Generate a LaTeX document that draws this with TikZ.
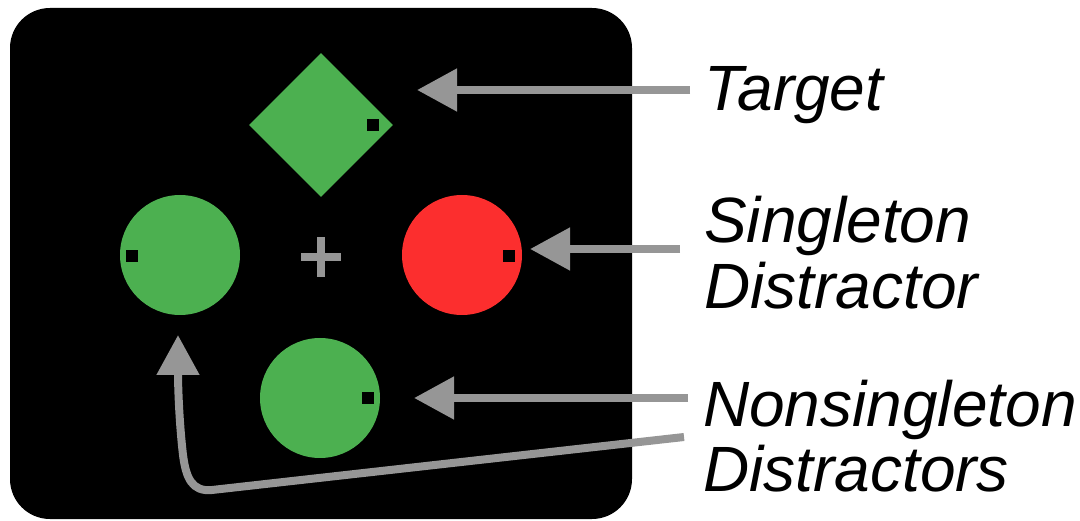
\documentclass[tikz,border=0pt]{standalone}
\usepackage{fontspec}
\setmainfont{Liberation Sans}
\usetikzlibrary{arrows.meta,shapes.geometric}

\definecolor{stimgreen}{RGB}{76,176,80}
\definecolor{stimred}{RGB}{252,46,46}
\definecolor{pointer}{RGB}{150,150,150}

\tikzset{
  display/.style={fill=black, rounded corners=40pt},
  disc/.style={circle, minimum size=120pt, inner sep=0pt},
  gap/.style={fill=black, minimum size=12pt, inner sep=0pt},
  pointerarrow/.style={draw=pointer, line width=8pt,
    -{Triangle[length=40pt, width=41pt]}},
  % multi-line captions sit on the baseline of their last line
  caption/.style={font=\fontsize{64}{66}\selectfont\itshape,
    anchor=base west, inner sep=0pt, align=left},
}

\begin{document}
\begin{tikzpicture}[x=1pt, y=-1pt]
  \useasboundingbox (0,0) rectangle (1080,521);

  % search display
  \fill[display] (10,8) rectangle (632,519);

  % target diamond and distractor discs
  \node[diamond, fill=stimgreen, minimum width=144pt, minimum height=144pt,
        inner sep=0pt, aspect=1] (target) at (321,125) {};
  \node[disc, fill=stimgreen] (leftdisc) at (180,255) {};
  \node[disc, fill=stimred] (singleton) at (462,255) {};
  \node[disc, fill=stimgreen] (bottomdisc) at (320,398) {};

  % small gaps on each item
  \node[gap] (gaptarget) at (373,125) {};
  \node[gap] (gapleft) at (132,256) {};
  \node[gap] (gapred) at (509,256) {};
  \node[gap] (gapbottom) at (368,398) {};

  % fixation cross
  \coordinate (fix) at (321,257);
  \draw[pointer, line width=8pt] ([xshift=-20pt]fix) -- ([xshift=20pt]fix)
                                 ([yshift=-20pt]fix) -- ([yshift=20pt]fix);

  % labels
  \node[caption] (lbltarget) at (704,111) {Target};
  \node[caption] (lblsingle) at (704,309) {Singleton\\Distractor};
  \node[caption] (lblnonsingle) at (703,492) {Nonsingleton\\Distractors};

  % arrow end points
  \coordinate (tgttail) at (690,90);
  \coordinate (tgttip) at (417,90);
  \coordinate (sgltail) at (680,249);
  \coordinate (sgltip) at (530,249);
  \coordinate (nstail) at (688,398);
  \coordinate (nstip) at (414,398);
  \coordinate (nscurvetail) at (684,437);
  \coordinate (nscurvetip) at (178,335);

  % pointers
  \draw[pointerarrow] (nstail) -- (nstip);
  \draw[pointerarrow] (tgttail) -- (tgttip);
  \draw[pointerarrow] (sgltail) -- (sgltip);
  \draw[pointerarrow] (nscurvetail) -- (212,490)
      .. controls (192,492) and (186,478) .. (183,455)
      .. controls (179,420) and (178,385) .. (nscurvetip);
\end{tikzpicture}
\end{document}
